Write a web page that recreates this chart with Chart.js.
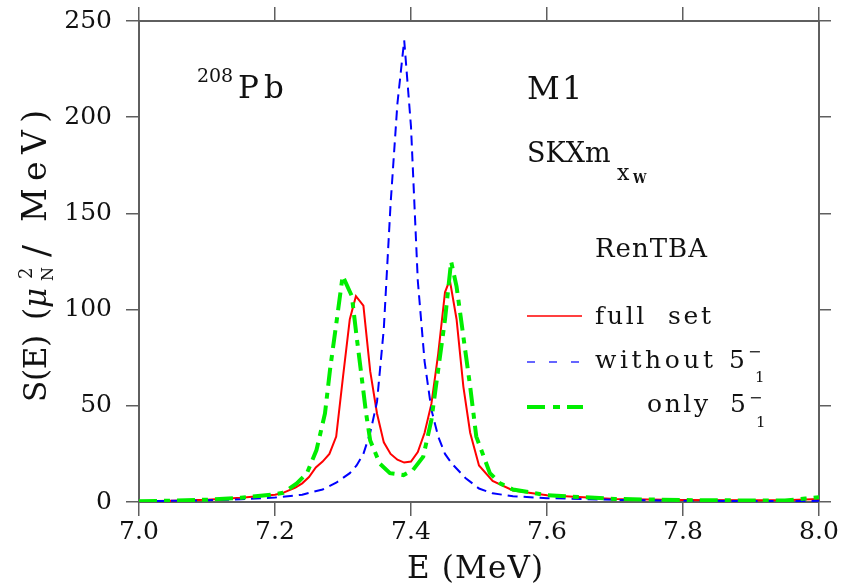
<!DOCTYPE html>
<html>
<head>
<meta charset="utf-8">
<script src="https://cdn.jsdelivr.net/npm/chart.js@4.4.1/dist/chart.umd.min.js"></script>
<style>
  html, body { margin: 0; padding: 0; background: #fff; }
  #wrap { width: 851px; height: 584px; }
</style>
</head>
<body>
<div id="wrap"><canvas id="strengthChart"></canvas></div>
<script>
// S(E) in mu_N^2/MeV against E in MeV
const fullE = [7.00, 7.05, 7.10, 7.15, 7.20, 7.21, 7.23, 7.24, 7.25, 7.26, 7.27, 7.28, 7.29, 7.30, 7.31, 7.319,
               7.33, 7.34, 7.35, 7.36, 7.37, 7.38, 7.39, 7.40, 7.41, 7.42, 7.43, 7.44, 7.45, 7.457, 7.467,
               7.477, 7.487, 7.50, 7.52, 7.55, 7.60, 7.70, 7.80, 7.90, 7.96, 8.00];
const fullS = [0.4, 0.7, 1.2, 2.2, 3.8, 4.5, 7.5, 9.7, 13, 18, 21, 25, 34, 65, 95, 107,
               102, 68, 46, 31, 25, 22, 20.5, 21, 26, 36, 51, 77, 109, 115.5, 95,
               60, 36, 19, 11, 6, 3.5, 1.6, 1.0, 0.9, 1.0, 1.6];

const withoutE = [7.00, 7.05, 7.10, 7.15, 7.20, 7.24, 7.27, 7.29, 7.31, 7.32, 7.33, 7.34, 7.35, 7.36, 7.37,
                  7.38, 7.39, 7.40, 7.41, 7.42, 7.43, 7.44, 7.45, 7.46, 7.48, 7.50, 7.52, 7.55, 7.60,
                  7.70, 7.80, 7.90, 7.95, 8.00];
const withoutS = [0.4, 0.6, 0.9, 1.4, 2.3, 3.8, 6.5, 10, 15, 19, 25, 36, 52, 90, 155,
                  207, 240, 195, 115, 73, 48, 34, 25, 20, 12.5, 7, 4.5, 3, 2,
                  1.1, 0.7, 0.5, 0.5, 0.6];

const onlyE = [7.00, 7.05, 7.10, 7.15, 7.20, 7.212, 7.232, 7.247, 7.261, 7.2735, 7.281, 7.291, 7.2995,
               7.313, 7.320, 7.326, 7.334, 7.340, 7.354, 7.369, 7.389, 7.403, 7.418, 7.430, 7.440,
               7.450, 7.459, 7.467, 7.477, 7.487, 7.496, 7.516, 7.531, 7.55, 7.60, 7.70, 7.80,
               7.90, 7.95, 7.98, 8.00];
const onlyS = [0.4, 0.7, 1.2, 2.2, 4, 4.8, 9.7, 15, 27, 46, 69, 95, 117.5,
               107, 86, 69, 46, 32, 20, 15, 14, 16.7, 23.6, 42.7, 68.8,
               94.8, 125, 112, 86, 60, 34, 15, 9.7, 6.5, 3.5, 1.6, 1.0,
               0.8, 0.8, 1.8, 2.5];

const xTickValues = [7.0, 7.2, 7.4, 7.6, 7.8, 8.0];
const yTickValues = [0, 50, 100, 150, 200, 250];

const AXIS = "#5f5f5f";
const INK = "#111";
const SERIF = "'DejaVu Serif', serif";

function pts(xs, ys) {
    return xs.map((x, i) => ({ x: x, y: ys[i] }));
}

// text, optionally stretched to the width it has in the figure
function drawFit(ctx, txt, x, y, width, font) {
    ctx.font = font;
    ctx.letterSpacing = "0px";
    const w = ctx.measureText(txt).width;
    if (width) {
        ctx.letterSpacing = ((width - w) / Math.max(txt.length - 1, 1)) + "px";
    }
    ctx.fillText(txt, x, y);
    ctx.letterSpacing = "0px";
}

const labelsPlugin = {
    id: "labels",
    afterDraw(chart) {
        const ctx = chart.ctx;
        ctx.save();
        ctx.fillStyle = INK;
        ctx.textAlign = "left";
        ctx.textBaseline = "alphabetic";

        // x title
        drawFit(ctx, "E (MeV)", 407, 578, 136, "31px " + SERIF);

        // y title, rotated
        ctx.save();
        ctx.translate(46, 402);
        ctx.rotate(-Math.PI / 2);
        drawFit(ctx, "S(E)", 0, 0, 67, "31px " + SERIF);
        drawFit(ctx, "(", 82, 0, 0, "31px " + SERIF);
        drawFit(ctx, "\u03bc", 94, 0, 0, "italic 31px " + SERIF);
        drawFit(ctx, "2", 123, -14, 0, "18px " + SERIF);
        drawFit(ctx, "N", 121, 7, 0, "16px " + SERIF);
        drawFit(ctx, "/", 145, 2, 0, "36px " + SERIF);
        drawFit(ctx, "MeV)", 180, 0, 112, "33px " + SERIF);
        ctx.restore();

        // nucleus and multipolarity
        drawFit(ctx, "208", 197, 82, 36, "19px " + SERIF);
        drawFit(ctx, "P", 238, 98, 0, "31px " + SERIF);
        drawFit(ctx, "b", 264, 98, 0, "31px " + SERIF);
        drawFit(ctx, "M", 527, 99, 0, "32px " + SERIF);
        drawFit(ctx, "1", 562, 99, 0, "32px " + SERIF);
        drawFit(ctx, "SKXm", 527, 162, 0, "27px " + SERIF);
        drawFit(ctx, "x", 617, 180, 0, "22px " + SERIF);
        drawFit(ctx, "W", 633, 183, 14, "bold 12px " + SERIF);
        drawFit(ctx, "RenTBA", 595, 257, 112, "26px " + SERIF);

        // legend
        ctx.lineCap = "butt";
        ctx.strokeStyle = "#ff0000";
        ctx.lineWidth = 1.5;
        ctx.setLineDash([]);
        ctx.beginPath(); ctx.moveTo(527, 316); ctx.lineTo(582, 316); ctx.stroke();
        ctx.strokeStyle = "#3333ff";
        ctx.setLineDash([8, 14]);
        ctx.beginPath(); ctx.moveTo(527, 362); ctx.lineTo(582, 362); ctx.stroke();
        ctx.strokeStyle = "#00ee00";
        ctx.lineWidth = 4;
        ctx.setLineDash([18, 8, 7, 7]);
        ctx.beginPath(); ctx.moveTo(527, 407); ctx.lineTo(583, 407); ctx.stroke();
        ctx.setLineDash([]);

        drawFit(ctx, "full  set", 595, 324, 116, "25px " + SERIF);
        drawFit(ctx, "without", 595, 368, 118, "25px " + SERIF);
        drawFit(ctx, "5", 729, 368, 0, "25px " + SERIF);
        drawFit(ctx, "\u2212", 748, 357, 0, "16px " + SERIF);
        drawFit(ctx, "1", 755, 382, 0, "15px " + SERIF);
        drawFit(ctx, "only", 647, 412, 61, "25px " + SERIF);
        drawFit(ctx, "5", 730, 412, 0, "25px " + SERIF);
        drawFit(ctx, "\u2212", 749, 403, 0, "16px " + SERIF);
        drawFit(ctx, "1", 756, 427, 0, "15px " + SERIF);
        ctx.restore();
    }
};

const gridOpts = { drawOnChartArea: false, color: AXIS, lineWidth: 1.5, tickLength: 14 };
const borderOpts = { color: AXIS, width: 2 };

// fixed axis sizes so the plot box sits where it does in the figure
function fixSize(prop, size) {
    return s => {
        s[prop] = size;
        s.paddingTop = 0; s.paddingBottom = 0; s.paddingLeft = 0; s.paddingRight = 0;
    };
}

new Chart(document.getElementById("strengthChart"), {
    type: "line",
    data: {
        datasets: [
            { label: "only 5-1", data: pts(onlyE, onlyS), borderColor: "#00ee00", borderWidth: 4,
              borderDash: [18, 7, 6, 7], order: 0 },
            { label: "without 5-1", data: pts(withoutE, withoutS), borderColor: "#0000ff", borderWidth: 2,
              borderDash: [10, 6], order: 1 },
            { label: "full set", data: pts(fullE, fullS), borderColor: "#ff0000", borderWidth: 2, order: 2 }
        ]
    },
    options: {
        responsive: true,
        maintainAspectRatio: false,
        animation: false,
        layout: { padding: 0 },
        elements: { point: { radius: 0 }, line: { tension: 0, borderCapStyle: "butt" } },
        plugins: { legend: { display: false }, tooltip: { enabled: false } },
        scales: {
            x: {
                type: "linear", position: "bottom", min: 7, max: 8,
                afterBuildTicks: s => { s.ticks = xTickValues.map(v => ({ value: v })); },
                afterFit: fixSize("height", 82),
                ticks: { callback: v => v.toFixed(1), font: { family: SERIF, size: 25 }, color: INK,
                         padding: 1, maxRotation: 0, autoSkip: false },
                grid: gridOpts, border: borderOpts
            },
            x2: {
                type: "linear", position: "top", min: 7, max: 8,
                afterBuildTicks: s => { s.ticks = xTickValues.map(v => ({ value: v })); },
                afterFit: fixSize("height", 21),
                ticks: { display: false },
                grid: gridOpts, border: borderOpts
            },
            y: {
                type: "linear", position: "left", min: 0, max: 250,
                afterBuildTicks: s => { s.ticks = yTickValues.map(v => ({ value: v })); },
                afterFit: fixSize("width", 139),
                ticks: { font: { family: SERIF, size: 25 }, color: INK, padding: 14 },
                grid: Object.assign({}, gridOpts, { tickLength: 13 }), border: borderOpts
            },
            y2: {
                type: "linear", position: "right", min: 0, max: 250,
                afterBuildTicks: s => { s.ticks = yTickValues.map(v => ({ value: v })); },
                afterFit: fixSize("width", 32),
                ticks: { display: false },
                grid: Object.assign({}, gridOpts, { tickLength: 12 }), border: borderOpts
            }
        }
    },
    plugins: [labelsPlugin]
});
</script>
</body>
</html>
